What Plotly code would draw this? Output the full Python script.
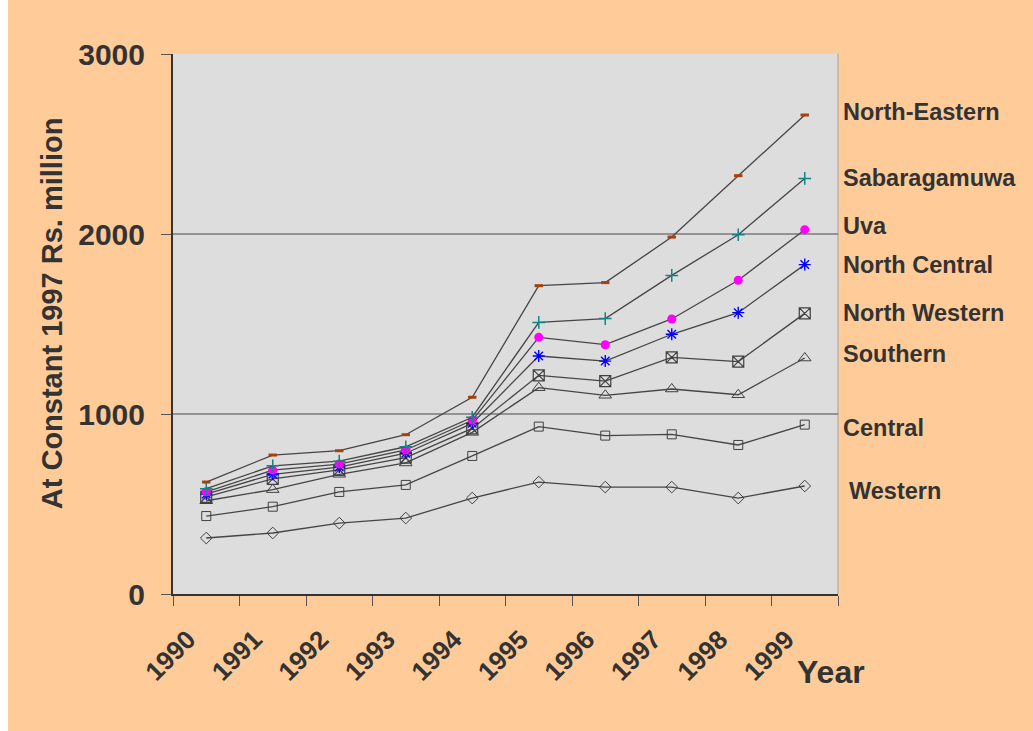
import plotly.graph_objects as go

# Provincial series, at constant 1997 Rs. million
years = [1990, 1991, 1992, 1993, 1994, 1995, 1996, 1997, 1998, 1999]

north_eastern = [622, 772, 796, 885, 1093, 1713, 1730, 1983, 2324, 2661]
sabaragamuwa = [585, 712, 738, 818, 982, 1509, 1530, 1770, 1996, 2309]
uva = [568, 688, 722, 800, 965, 1426, 1385, 1528, 1743, 2024]
north_central = [555, 665, 705, 782, 948, 1322, 1294, 1443, 1563, 1830]
north_western = [540, 640, 690, 758, 920, 1215, 1183, 1315, 1291, 1559]
southern = [518, 580, 665, 728, 898, 1146, 1104, 1139, 1107, 1311]
central = [433, 485, 567, 606, 767, 930, 880, 887, 828, 941]
western = [311, 339, 394, 422, 533, 622, 594, 594, 533, 600]

province_names = ["North-Eastern", "Sabaragamuwa", "Uva", "North Central",
                  "North Western", "Southern", "Central", "Western"]
# vertical placement of the right-hand province labels (data units)
label_y = [2678, 2311, 2044, 1828, 1561, 1333, 922, 572]

y_ticks = [0, 1000, 2000, 3000]

series = [north_eastern, sabaragamuwa, uva, north_central,
          north_western, southern, central, western]

GREY = "#404040"
marker_styles = [
    dict(symbol="line-ew-open", size=6, color="#A8400C", line=dict(color="#A8400C", width=3)),
    dict(symbol="cross-thin-open", size=9, color="#108585", line=dict(color="#108585", width=1.5)),
    dict(symbol="circle", size=9, color="#FF00FF", line=dict(width=0)),
    dict(symbol="asterisk-open", size=10, color="#0000FF", line=dict(color="#0000FF", width=1.4)),
    dict(symbol="square-x-open", size=11, color=GREY, line=dict(color=GREY, width=1.2)),
    dict(symbol="triangle-up-open", size=11, color=GREY, line=dict(color=GREY, width=1)),
    dict(symbol="square-open", size=9, color=GREY, line=dict(color=GREY, width=1)),
    dict(symbol="diamond-open", size=9, color=GREY, line=dict(color=GREY, width=1)),
]

fig = go.Figure()

# draw bottom series first so upper ones sit on top
for name, vals, mk in reversed(list(zip(province_names, series, marker_styles))):
    fig.add_trace(go.Scatter(
        x=years, y=vals, name=name, mode="lines+markers",
        line=dict(color="#454545", width=1.3),
        marker=mk,
        cliponaxis=False,
    ))

FONT = "Liberation Sans, Arial, sans-serif"
TXT = "#333333"

for name, yv in zip(province_names, label_y):
    fig.add_annotation(
        x=1999.5, y=yv, xref="x", yref="y",
        text="<b>" + name + "</b>", showarrow=False,
        xanchor="left", yanchor="middle",
        xshift=9 if name == "Western" else 3,
        font=dict(family=FONT, size=23.5, color=TXT),
    )

fig.add_annotation(
    x=1999.5, y=0, xref="x", yref="y", text="<b>Year</b>", showarrow=False,
    xanchor="left", yanchor="top", xshift=-43, yshift=-58,
    font=dict(family=FONT, size=32, color=TXT),
)

# vertical axis title
fig.add_annotation(
    x=0, y=0.52, xref="paper", yref="paper", xshift=-121,
    text="<b>At Constant 1997 Rs. million</b>", showarrow=False,
    textangle=-90, xanchor="center", yanchor="middle",
    font=dict(family=FONT, size=29, color=TXT),
)

plot_l, plot_r, plot_t, plot_b = 173, 195, 54, 137
plot_w = 1033 - plot_l - plot_r

# thin white strip along the left edge of the page
fig.add_shape(type="rect", xref="paper", yref="paper",
              x0=-plot_l / plot_w, x1=(8 - plot_l) / plot_w, y0=-1, y1=2,
              fillcolor="white", line=dict(width=0), layer="above")
# light right edge of the plotting area
fig.add_shape(type="line", xref="paper", yref="paper", x0=1, x1=1, y0=0, y1=1,
              line=dict(color="#A0A0A0", width=1), layer="below")
# horizontal gridlines at the inner value ticks
for v in y_ticks[1:-1]:
    fig.add_shape(type="line", xref="paper", yref="y", x0=0, x1=1, y0=v, y1=v,
                  line=dict(color="#7A7A7A", width=1.6), layer="below")

fig.update_layout(
    width=1033, height=731,
    margin=dict(l=plot_l, r=plot_r, t=plot_t, b=plot_b),
    paper_bgcolor="#FFCC99",
    plot_bgcolor="#DDDDDD",
    showlegend=False,
    font=dict(family=FONT, color=TXT),
)

boundaries = [y - 0.5 for y in years] + [years[-1] + 0.5]
fig.update_xaxes(
    range=[years[0] - 0.5, years[-1] + 0.5],
    tickmode="array", tickvals=boundaries,
    ticktext=["<b>%d</b>" % y for y in years] + [""],
    tickangle=-45, ticks="outside", ticklen=10, tickwidth=1, tickcolor="#555555",
    tickfont=dict(family=FONT, size=26, color=TXT),
    showgrid=False, zeroline=False,
    showline=True, linecolor="#333333", linewidth=2,
    ticklabelstandoff=8, ticklabelshift=15,
)
fig.update_yaxes(
    range=[0, 3000], tickmode="array", tickvals=y_ticks,
    ticktext=["<b>%d</b>" % v for v in y_ticks],
    ticks="outside", ticklen=10, tickwidth=1, tickcolor="#555555",
    tickfont=dict(family=FONT, size=30, color=TXT),
    showgrid=False, zeroline=False,
    showline=True, linecolor="#333333", linewidth=2,
    ticklabelstandoff=10,
)

fig.write_html("out.html")
